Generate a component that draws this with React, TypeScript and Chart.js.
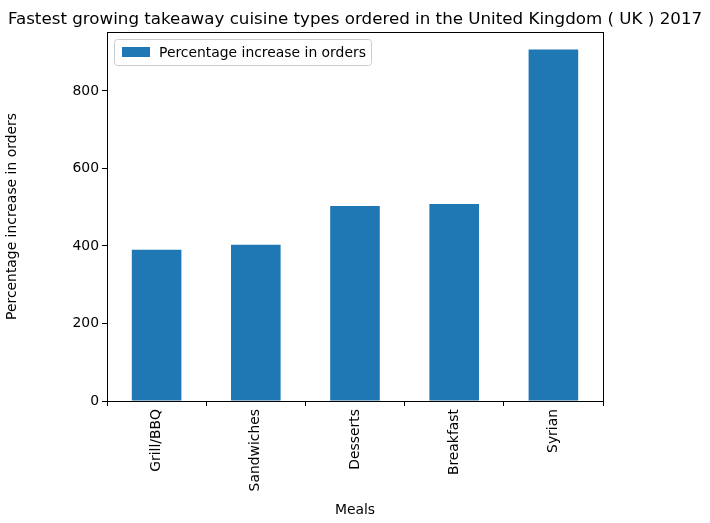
import React, { useEffect, useRef } from 'react';
import Chart from 'chart.js/auto';

const meals = ['Grill/BBQ', 'Sandwiches', 'Desserts', 'Breakfast', 'Syrian'];
const increases = [390, 403, 503, 508, 907];
const yTicks = [0, 200, 400, 600, 800];

const FONT = "'DejaVu Sans', sans-serif";
const BLUE = '#1f77b4';

// frame, title and in-axes legend like matplotlib
const decorPlugin = {
  id: 'decor',
  afterDraw(chart: any) {
    const { ctx, chartArea: a } = chart;
    ctx.save();
    ctx.strokeStyle = '#000';
    ctx.lineWidth = 1;
    ctx.strokeRect(a.left + 0.5, a.top + 0.5, a.right - a.left, a.bottom - a.top);
    ctx.fillStyle = '#000';
    ctx.font = `16.7px ${FONT}`;
    ctx.textAlign = 'center';
    ctx.textBaseline = 'alphabetic';
    ctx.fillText('Fastest growing takeaway cuisine types ordered in the United Kingdom ( UK ) 2017', (a.left + a.right) / 2, 24);
    // legend
    const lx = a.left + 7, ly = a.top + 7, lw = 257, lh = 26;
    ctx.fillStyle = 'rgba(255,255,255,0.8)';
    ctx.strokeStyle = '#cccccc';
    ctx.beginPath();
    ctx.roundRect(lx + 0.5, ly + 0.5, lw, lh, 3);
    ctx.fill();
    ctx.stroke();
    ctx.fillStyle = BLUE;
    ctx.fillRect(lx + 8, ly + 8, 28, 10);
    ctx.fillStyle = '#000';
    ctx.font = `13.9px ${FONT}`;
    ctx.textAlign = 'left';
    ctx.textBaseline = 'middle';
    ctx.fillText('Percentage increase in orders', lx + 45, ly + 14);
    ctx.restore();
  },
};

const App: React.FC = () => {
  const canvasRef = useRef<HTMLCanvasElement>(null);
  const chartRef = useRef<Chart | null>(null);

  useEffect(() => {
    document.body.style.margin = '0';
    if (!canvasRef.current) return;
    chartRef.current = new Chart(canvasRef.current, {
      type: 'bar',
      data: {
        labels: meals,
        datasets: [{ label: 'Percentage increase in orders', data: increases, backgroundColor: BLUE, categoryPercentage: 1, barPercentage: 0.5 }],
      },
      options: {
        animation: false,
        responsive: false,
        layout: { padding: { top: 32, right: 107, left: 0, bottom: 0 } },
        plugins: { legend: { display: false }, title: { display: false }, tooltip: { enabled: false } },
        scales: {
          x: {
            grid: { drawOnChartArea: false, tickLength: 5, color: '#000' },
            border: { display: false },
            ticks: { color: '#000', font: { family: FONT, size: 13.9 }, maxRotation: 90, minRotation: 90 },
            title: { display: true, text: 'Meals', color: '#000', font: { family: FONT, size: 13.9 } },
            afterFit: (s: any) => { s.height = 122; },
          },
          y: {
            min: 0,
            max: 952,
            afterBuildTicks: (s: any) => { s.ticks = yTicks.map((v) => ({ value: v })); },
            grid: { drawOnChartArea: false, tickLength: 5, color: '#000' },
            border: { display: false },
            ticks: { color: '#000', font: { family: FONT, size: 13.9 } },
            title: { display: true, text: 'Percentage increase in orders', color: '#000', font: { family: FONT, size: 13.9 } },
            afterFit: (s: any) => { s.width = 107; },
          },
        },
      },
      plugins: [decorPlugin],
    });
    return () => { chartRef.current?.destroy(); };
  }, []);

  return (
    <div style={{ width: 710, height: 523, background: '#fff' }}>
      <canvas ref={canvasRef} width={710} height={523} />
    </div>
  );
};

export default App;
